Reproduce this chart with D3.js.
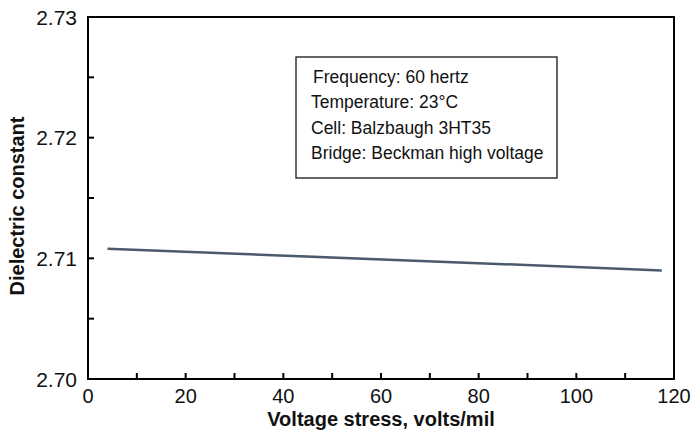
<!DOCTYPE html>
<html>
<head>
<meta charset="utf-8">
<script src="https://cdn.jsdelivr.net/npm/d3@7"></script>
<style>
  body { margin: 0; background: #fff; }
  text { font-family: "Liberation Sans", Arial, sans-serif; fill: #111; }
</style>
</head>
<body>
<svg id="chart" width="696" height="440"></svg>
<script>
// data
const voltage = [4, 117.5];
const dielectric = [2.7108, 2.7090];
const xTicks = [0, 20, 40, 60, 80, 100, 120];
const yTicks = [2.70, 2.71, 2.72, 2.73];
const notes = ["Frequency: 60 hertz", "Temperature: 23°C", "Cell: Balzbaugh 3HT35", "Bridge: Beckman high voltage"];

const margin = {top: 17, right: 22, bottom: 61, left: 88};
const width = 696 - margin.left - margin.right;
const height = 440 - margin.top - margin.bottom;

const svg = d3.select("#chart");
const g = svg.append("g")
    .attr("transform", `translate(${margin.left}, ${margin.top})`);

const x = d3.scaleLinear().domain([0, 120]).range([0, width]);
const y = d3.scaleLinear().domain([2.70, 2.73]).range([height, 0]);

// frame
g.append("rect")
    .attr("width", width)
    .attr("height", height)
    .attr("fill", "none")
    .attr("stroke", "#000")
    .attr("stroke-width", 2);

// inner ticks
g.append("g")
    .selectAll("line")
    .data(d3.range(10, 120, 10))
    .join("line")
    .attr("x1", d => x(d)).attr("x2", d => x(d))
    .attr("y1", height).attr("y2", height - 6)
    .attr("stroke", "#000").attr("stroke-width", 2);

g.append("g")
    .selectAll("line")
    .data(d3.range(1, 6).map(i => 2.70 + i * 0.005))
    .join("line")
    .attr("x1", 0).attr("x2", 6)
    .attr("y1", d => y(d)).attr("y2", d => y(d))
    .attr("stroke", "#000").attr("stroke-width", 2);

// tick labels
g.append("g")
    .selectAll("text")
    .data(xTicks)
    .join("text")
    .attr("x", d => x(d))
    .attr("y", height + 24)
    .attr("text-anchor", "middle")
    .style("font-size", "20px")
    .text(d => d);

g.append("g")
    .selectAll("text")
    .data(yTicks)
    .join("text")
    .attr("x", -11)
    .attr("y", d => y(d) + 7.5)
    .attr("text-anchor", "end")
    .style("font-size", "21px")
    .text(d => d.toFixed(2));

// axis titles
svg.append("text")
    .attr("x", margin.left + width / 2)
    .attr("y", 426)
    .attr("text-anchor", "middle")
    .style("font-size", "20px")
    .style("font-weight", "bold")
    .text("Voltage stress, volts/mil");

svg.append("text")
    .attr("transform", `translate(24, ${margin.top + height / 2 + 8}) rotate(-90)`)
    .attr("text-anchor", "middle")
    .style("font-size", "20px")
    .style("font-weight", "bold")
    .text("Dielectric constant");

// data line
const line = d3.line()
    .x(d => x(d[0]))
    .y(d => y(d[1]));

g.append("path")
    .datum(d3.zip(voltage, dielectric))
    .attr("fill", "none")
    .attr("stroke", "#4b5b6b")
    .attr("stroke-width", 2.5)
    .attr("d", line);

// note box
const box = svg.append("g").attr("transform", "translate(296, 57)");
box.append("rect")
    .attr("width", 261)
    .attr("height", 121)
    .attr("fill", "#fff")
    .attr("stroke", "#000")
    .attr("stroke-width", 1.2);
box.selectAll("text")
    .data(notes)
    .join("text")
    .attr("x", (d, i) => i === 0 ? 17 : 15)
    .attr("y", (d, i) => 26 + i * 25.3)
    .style("font-size", "17.5px")
    .text(d => d);
</script>
</body>
</html>
